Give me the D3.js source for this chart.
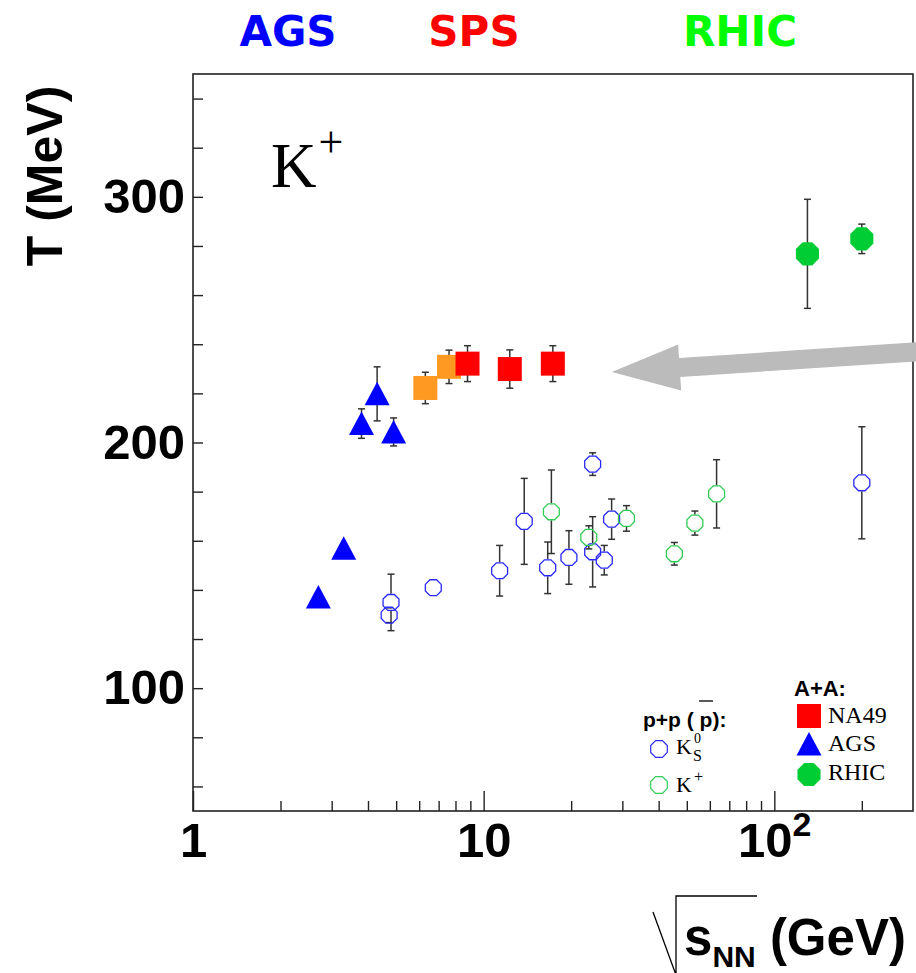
<!DOCTYPE html>
<html>
<head>
<meta charset="utf-8">
<script src="https://cdn.jsdelivr.net/npm/d3@7/dist/d3.min.js"></script>
<style>
  html, body { margin: 0; padding: 0; background: #fff; }
  svg { display: block; }
</style>
</head>
<body>
<div id="chart"></div>
<script>
// ---------------- DATA ----------------
// AGS (A+A), filled blue triangles
const agsX   = [2.7, 3.3, 3.8, 4.3, 4.9];
const agsT   = [137.1, 157.0, 207.7, 219.8, 204.3];
const agsErr = [0, 0, 6.0, 11.0, 5.7];

// NA49 (A+A) - lower energies (orange) and higher energies (red)
const na49LowX   = [6.3, 7.6];
const na49LowT   = [222.2, 230.8];
const na49LowErr = [6.4, 6.8];
const na49X   = [8.8, 12.3, 17.3];
const na49T   = [232.1, 229.9, 232.1];
const na49Err = [7.3, 7.8, 7.3];

// RHIC (A+A), filled green
const rhicX   = [130, 200];
const rhicT   = [276.8, 282.9];
const rhicErr = [22.2, 6.0];

// p+p(pbar) K0_S, open blue
const ppK0X   = [4.80, 4.73, 6.71, 11.35, 13.79, 16.61, 19.65, 23.71, 23.71, 26.0, 27.56, 200];
const ppK0T   = [134.9, 129.7, 140.9, 147.8, 167.9, 149.0, 153.2, 191.2, 155.5, 152.1, 168.8, 183.6];
const ppK0Err = [11.5, 3.0, 0, 10.3, 17.5, 10.5, 10.9, 4.6, 14.3, 6.0, 8.2, 22.8];

// p+p(pbar) K+, open green
const ppKpX   = [17.1, 23.0, 31.0, 45.3, 53.3, 63.3];
const ppKpT   = [171.8, 161.4, 169.1, 154.7, 167.2, 179.1];
const ppKpErr = [17.0, 4.7, 5.2, 4.6, 4.9, 13.9];

// axis ticks / labels
const xMajorTicks = [1, 10, 100];
const xMinorTicks = [2,3,4,5,6,7,8,9,20,30,40,50,60,70,80,90,200];
const xTickLabels = ["1", "10", "10"];
const yTicks = [60,80,100,120,140,160,180,200,220,240,260,280,300,320,340];
const yLabelled = [100, 200, 300];

// annotation arrow (data coords): tip and tail
const arrowTip  = [27.6, 228.7];
const arrowTail = [307, 236.9];

// ---------------- CHART ----------------
const W = 916, H = 973;
const L = 193, R = 913, T = 74, B = 811;

const svg = d3.select("#chart").append("svg")
  .attr("width", W).attr("height", H);

const x = d3.scaleLog().domain([1, 300]).range([L, R]);
const y = d3.scaleLinear().domain([50, 350]).range([B, T]);

const axisColor = "#222";
const sans = "'Liberation Sans', Arial, Helvetica, sans-serif";
const serif = "'Liberation Serif', 'Times New Roman', serif";

// frame
svg.append("rect").attr("x", L).attr("y", T).attr("width", R - L).attr("height", B - T)
  .attr("fill", "none").attr("stroke", axisColor).attr("stroke-width", 1.6);

// x axis minor
const gxMinor = svg.append("g").attr("transform", `translate(0,${B})`)
  .call(d3.axisBottom(x).tickValues(xMinorTicks).tickSizeInner(-10).tickSizeOuter(0).tickFormat(""));
// x axis major
const gxMajor = svg.append("g").attr("transform", `translate(0,${B})`)
  .call(d3.axisBottom(x).tickValues(xMajorTicks).tickSizeInner(-20).tickSizeOuter(0).tickPadding(11)
        .tickFormat((d, i) => xTickLabels[i]));
[gxMinor, gxMajor].forEach(g => {
  g.select(".domain").remove();
  g.selectAll(".tick line").attr("stroke", axisColor).attr("stroke-width", 1.4);
});
gxMajor.selectAll(".tick text")
  .attr("font-family", sans).attr("font-weight", "bold").attr("font-size", 49).attr("fill", "#000");
gxMajor.selectAll(".tick text").filter(d => d === 100)
  .append("tspan").attr("font-size", 34).attr("dy", "-0.6em").text("2");

// y axis
const gy = svg.append("g").attr("transform", `translate(${L},0)`)
  .call(d3.axisLeft(y).tickValues(yTicks).tickSizeInner(-10).tickSizeOuter(0).tickPadding(8)
        .tickFormat(d => yLabelled.includes(d) ? String(d) : ""));
gy.select(".domain").remove();
gy.selectAll(".tick line").attr("stroke", axisColor).attr("stroke-width", 1.4);
gy.selectAll(".tick text")
  .attr("font-family", sans).attr("font-weight", "bold").attr("font-size", 49).attr("fill", "#000");

// axis titles
svg.append("text")
  .attr("transform", `translate(62,176) rotate(-90)`)
  .attr("text-anchor", "middle")
  .attr("font-family", sans).attr("font-weight", "bold").attr("font-size", 50)
  .text("T (MeV)");

// sqrt(s_NN) (GeV)
svg.append("path")
  .attr("d", "M653,912 L676,975 L676,896 L757,896")
  .attr("fill", "none").attr("stroke", "#000").attr("stroke-width", 1.3);
const xt = svg.append("text").attr("x", 684).attr("y", 955)
  .attr("font-family", sans).attr("font-weight", "bold").attr("font-size", 51);
xt.append("tspan").text("s");
xt.append("tspan").attr("font-size", 30).attr("dy", 12).text("NN");
xt.append("tspan").attr("dy", -12).text(" (GeV)");

// top region labels
const topLabels = [["AGS", "#0000ff", 288], ["SPS", "#ff0000", 474], ["RHIC", "#00ff00", 740]];
svg.selectAll("text.top").data(topLabels).enter().append("text")
  .attr("class", "top")
  .attr("x", d => d[2]).attr("y", 46)
  .attr("text-anchor", "middle")
  .attr("font-family", "'DejaVu Sans', Verdana, sans-serif").attr("font-weight", "bold")
  .attr("font-size", 42).attr("fill", d => d[1])
  .text(d => d[0]);

// K+ label
const kl = svg.append("text").attr("x", 271).attr("y", 187)
  .attr("font-family", serif).attr("font-size", 63);
kl.append("tspan").text("K");
kl.append("tspan").attr("font-size", 44).attr("dx", 2).attr("dy", -30).text("+");

// arrow
(function () {
  const tx = x(arrowTip[0]), ty = y(arrowTip[1]);
  const ex = x(arrowTail[0]) + 20, ey = y(arrowTail[1]) - 1.3;
  const dx = ex - tx, dy = ey - ty, len = Math.hypot(dx, dy);
  const ux = dx / len, uy = dy / len, nx = -uy, ny = ux;
  const headLen = 68, headHalf = 23, shaftHalf = 9.5;
  const bx = tx + ux * headLen, by = ty + uy * headLen;
  const pts = [
    [tx, ty],
    [bx + nx * headHalf, by + ny * headHalf],
    [bx + nx * shaftHalf, by + ny * shaftHalf],
    [ex + nx * shaftHalf, ey + ny * shaftHalf],
    [ex - nx * shaftHalf, ey - ny * shaftHalf],
    [bx - nx * shaftHalf, by - ny * shaftHalf],
    [bx - nx * headHalf, by - ny * headHalf]
  ];
  svg.append("path").attr("d", "M" + pts.map(p => p.join(",")).join("L") + "Z")
    .attr("fill", "#bbbbbb");
})();

// ---------- markers ----------
function poly(n, r, rot) {
  const p = [];
  for (let i = 0; i < n; i++) {
    const a = rot + i * 2 * Math.PI / n;
    p.push([r * Math.cos(a), r * Math.sin(a)]);
  }
  return "M" + p.map(q => q.map(v => v.toFixed(2)).join(",")).join("L") + "Z";
}
const squarePath = "M-12,-12L12,-12L12,12L-12,12Z";
const triPath = "M0,-12L12.5,11.5L-12.5,11.5Z";
const octFilled = poly(8, 12.5, Math.PI / 8);
const openPath = poly(8, 8.6, Math.PI / 8);

function zip(xs, ts, es) { return xs.map((v, i) => ({ x: v, t: ts[i], e: es[i] })); }

function errorBars(data, gap) {
  const g = svg.append("g").attr("stroke", "#333").attr("stroke-width", 1.5);
  data.filter(d => d.e > 0).forEach(d => {
    const px = x(d.x), py = y(d.t), top = y(d.t + d.e), bot = y(d.t - d.e);
    if (gap > 0) {
      if (py - gap > top) g.append("line").attr("x1", px).attr("x2", px).attr("y1", top).attr("y2", py - gap);
      if (py + gap < bot) g.append("line").attr("x1", px).attr("x2", px).attr("y1", py + gap).attr("y2", bot);
    } else {
      g.append("line").attr("x1", px).attr("x2", px).attr("y1", top).attr("y2", bot);
    }
    g.append("line").attr("x1", px - 3.5).attr("x2", px + 3.5).attr("y1", top).attr("y2", top);
    g.append("line").attr("x1", px - 3.5).attr("x2", px + 3.5).attr("y1", bot).attr("y2", bot);
  });
}
function markers(data, path, fill, stroke, sw) {
  svg.append("g").selectAll("path").data(data).enter().append("path")
    .attr("d", path)
    .attr("transform", d => `translate(${x(d.x)},${y(d.t)})`)
    .attr("fill", fill).attr("stroke", stroke).attr("stroke-width", sw);
}

const ppK0 = zip(ppK0X, ppK0T, ppK0Err);
const ppKp = zip(ppKpX, ppKpT, ppKpErr);
const ags = zip(agsX, agsT, agsErr);
const na49Low = zip(na49LowX, na49LowT, na49LowErr);
const na49 = zip(na49X, na49T, na49Err);
const rhic = zip(rhicX, rhicT, rhicErr);

errorBars(ppK0, 8.6);
errorBars(ppKp, 8.6);
markers(ppK0, openPath, "none", "#2a2aff", 1.3);
markers(ppKp, openPath, "none", "#33cc55", 1.3);

errorBars(ags, 0);
errorBars(na49Low, 0);
errorBars(na49, 0);
errorBars(rhic, 0);
markers(ags, triPath, "#0000ff", "none", 0);
markers(na49Low, squarePath, "#ff9922", "none", 0);
markers(na49, squarePath, "#ff0000", "none", 0);
markers(rhic, octFilled, "#00cc33", "none", 0);

// ---------- legend ----------
const lg = svg.append("g");
lg.append("text").attr("x", 794).attr("y", 696)
  .attr("font-family", sans).attr("font-weight", "bold").attr("font-size", 22).text("A+A:");
const aaItems = [
  [squarePath, "#ff0000", "NA49", 716, 723],
  [triPath, "#0000ff", "AGS", 744, 751],
  [octFilled, "#00cc33", "RHIC", 774.5, 779.5]
];
aaItems.forEach(it => {
  lg.append("path").attr("d", it[0]).attr("transform", `translate(809,${it[3]})`).attr("fill", it[1]);
  lg.append("text").attr("x", 828).attr("y", it[4])
    .attr("font-family", serif).attr("font-size", 24).text(it[2]);
});

const ppt = lg.append("text").attr("x", 643).attr("y", 727)
  .attr("font-family", sans).attr("font-weight", "bold").attr("font-size", 21)
  .text("p+p ( p):");
lg.append("line").attr("x1", 699).attr("x2", 713).attr("y1", 701).attr("y2", 701)
  .attr("stroke", "#000").attr("stroke-width", 1.3);

lg.append("path").attr("d", poly(8, 9, Math.PI / 8)).attr("transform", "translate(659,749)")
  .attr("fill", "none").attr("stroke", "#2a2aff").attr("stroke-width", 1.2);
lg.append("path").attr("d", poly(8, 9, Math.PI / 8)).attr("transform", "translate(659,785)")
  .attr("fill", "none").attr("stroke", "#33cc55").attr("stroke-width", 1.2);

const k0 = lg.append("text").attr("x", 676).attr("y", 754)
  .attr("font-family", serif).attr("font-size", 22);
k0.append("tspan").text("K");
lg.append("text").attr("x", 694).attr("y", 743).attr("font-family", serif).attr("font-size", 14).text("0");
lg.append("text").attr("x", 693).attr("y", 761).attr("font-family", serif).attr("font-size", 16).text("S");

const kp = lg.append("text").attr("x", 676).attr("y", 792)
  .attr("font-family", serif).attr("font-size", 22);
kp.append("tspan").text("K");
lg.append("text").attr("x", 694).attr("y", 782).attr("font-family", serif).attr("font-size", 16).text("+");
</script>
</body>
</html>
